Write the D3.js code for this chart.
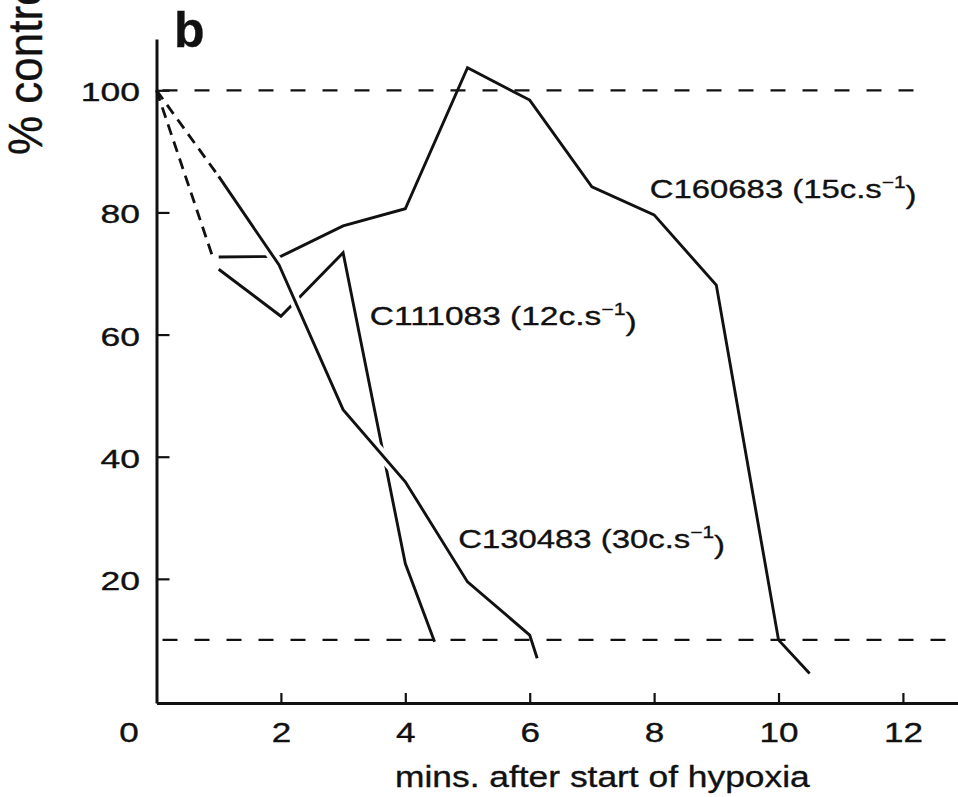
<!DOCTYPE html>
<html>
<head>
<meta charset="utf-8">
<script src="https://cdn.jsdelivr.net/npm/d3@7"></script>
<style>
  html, body { margin: 0; padding: 0; background: #fff; overflow: hidden; }
  text { font-family: "Liberation Sans", Arial, Helvetica, sans-serif; fill: #111; stroke: #111; stroke-width: 0.35px; }
</style>
</head>
<body>
<svg id="chart" width="958" height="797"></svg>
<script>
// Time course of response (% of control) after the start of hypoxia, three cells.
const xTicks = [0, 2, 4, 6, 8, 10, 12];
const yTicks = [20, 40, 60, 80, 100];
const refLevels = [100, 10];

const c160683 = [[1, 72.7], [2, 72.8], [3, 77.8], [4, 80.6], [5, 103.7], [6, 98.4],
                 [7, 84.2], [8, 79.6], [9, 68.1], [10, 10], [10.5, 4.5]];
const c111083 = [[1, 70.7], [2, 63], [3, 73.4], [4, 22.5], [4.47, 9.7]];
const c130483 = [[1, 85.9], [1.97, 71.4], [3, 47.7], [4, 35.9], [5, 19.5], [6, 10.8], [6.12, 7.0]];

// extrapolated starts back to 100 % at time zero (drawn dashed)
const leadShared = [[0, 100], [0.92, 72.2]];
const lead130483 = [[0, 100], [1, 85.9]];

const cellNames = ["C160683", "C111083", "C130483"];
const cellRates = ["15", "12", "30"];

// ---------------------------------------------------------------------------
const svg = d3.select("#chart");
const ink = "#111";

const x = d3.scaleLinear().domain([0, 12.9]).range([156.5, 958.9]);
const y = d3.scaleLinear().domain([-0.33, 108.4]).range([703, 39]);

// horizontal stretch helper: fits a text node to a given ink width
function fitWidth(textSel, width) {
  const w = textSel.node().getBBox().width;
  textSel.attr("transform", `scale(${width / w},1)`);
}

// reference levels
const refEnd = { 100: 12.2, 10: 12.85 };
svg.append("g").selectAll("line").data(refLevels).join("line")
  .attr("x1", x(0)).attr("x2", d => x(refEnd[d]))
  .attr("y1", d => y(d)).attr("y2", d => y(d))
  .attr("stroke", ink).attr("stroke-width", 2.2)
  .attr("stroke-dasharray", "15,17").attr("stroke-dashoffset", -6);

// axes
const xAxis = d3.axisBottom(x).tickValues(xTicks).tickSizeInner(-10).tickSizeOuter(0)
  .tickPadding(20).tickFormat(d3.format("d"));
const gx = svg.append("g").attr("transform", `translate(0,${y(-0.33)})`).call(xAxis);
gx.select(".domain").attr("stroke", ink).attr("stroke-width", 3);
gx.selectAll(".tick line").attr("stroke", ink).attr("stroke-width", 2.2)
  .attr("display", d => d === 0 ? "none" : null);
gx.selectAll(".tick text").attr("font-size", 27).attr("fill", ink)
  .attr("font-family", "Liberation Sans, Arial, sans-serif")
  .attr("x", d => d === 0 ? -28 / 1.3 : 0)
  .attr("transform", "scale(1.3,1)");

const yAxis = d3.axisLeft(y).tickValues(yTicks).tickSizeInner(-13).tickSizeOuter(0)
  .tickPadding(17).tickFormat(d3.format("d"));
const gy = svg.append("g").attr("transform", `translate(${x(0)},0)`).call(yAxis);
gy.select(".domain").attr("stroke", ink).attr("stroke-width", 3);
gy.selectAll(".tick line").attr("stroke", ink).attr("stroke-width", 2.2);
gy.selectAll(".tick text").attr("font-size", 25).attr("fill", ink)
  .attr("font-family", "Liberation Sans, Arial, sans-serif")
  .attr("x", 0).attr("dy", "0.42em")
  .attr("transform", "translate(-16.5,0) scale(1.42,1)");

// series
const line = d3.line().x(d => x(d[0])).y(d => y(d[1]));

const leads = svg.append("g").attr("fill", "none").attr("stroke", ink)
  .attr("stroke-width", 2.8).attr("stroke-dasharray", "11,7");
leads.append("path").attr("d", line(leadShared));
leads.append("path").attr("d", line(lead130483));

const traces = svg.append("g").attr("fill", "none").attr("stroke-linejoin", "miter");
traces.append("path").attr("d", line(c160683)).attr("stroke", ink).attr("stroke-width", 2.9);
traces.append("path").attr("d", line(c111083)).attr("stroke", ink).attr("stroke-width", 2.9);
// C130483 passes over the other traces: white casing breaks the lines beneath
traces.append("path").attr("d", line(c130483.slice(0, 4))).attr("stroke", "#fff").attr("stroke-width", 11);
traces.append("path").attr("d", line(c130483)).attr("stroke", ink).attr("stroke-width", 2.9);

// trace labels
const labelAt = [[7.93, 82.3], [3.43, 61.6], [4.85, 25.0]];
cellNames.forEach((name, i) => {
  const g = svg.append("g")
    .attr("transform", `translate(${x(labelAt[i][0])},${y(labelAt[i][1])})`);
  const t = g.append("text").attr("font-size", 26).attr("x", 0).attr("y", 0);
  t.append("tspan").text(`${name} (${cellRates[i]}c.s`);
  t.append("tspan").attr("font-size", 16.5).attr("dy", "-0.62em").text("\u22121");
  t.append("tspan").attr("dy", "0.62em").text(")");
  fitWidth(t, 267);
});

// axis titles
const xt = svg.append("g").attr("transform", "translate(395,786.7)")
  .append("text").attr("font-size", 29).text("mins. after start of hypoxia");
fitWidth(xt, 416);

svg.append("g").attr("transform", "translate(42,155) rotate(-90)")
  .append("text").attr("font-size", 44).attr("transform", "scale(1,1.1)")
  .text("% control");

// panel letter
svg.append("text").attr("x", 174).attr("y", 46.7)
  .attr("font-size", 50).attr("font-weight", "bold").text("b");
</script>
</body>
</html>
